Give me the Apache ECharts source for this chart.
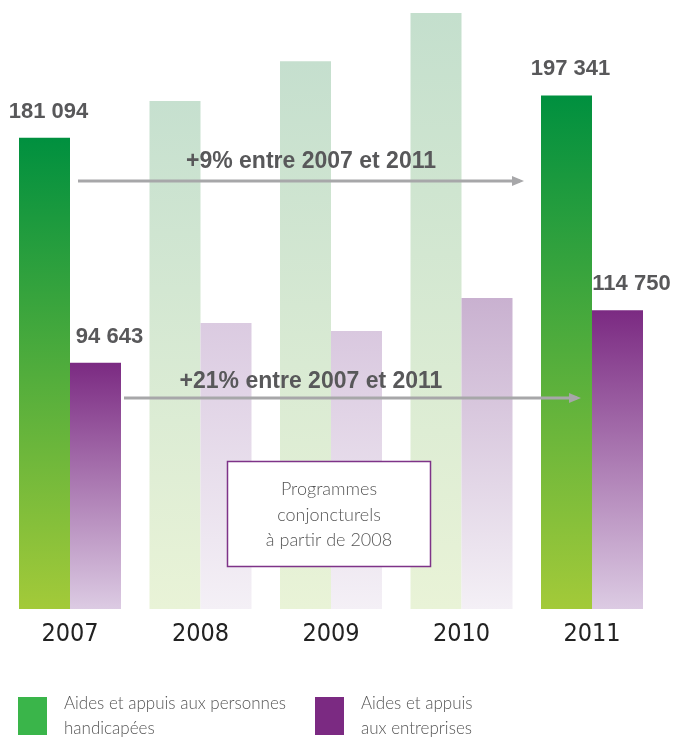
<!DOCTYPE html>
<html>
<head>
<meta charset="utf-8">
<script src="https://cdn.jsdelivr.net/npm/echarts@6/dist/echarts.min.js"></script>
<style>
html,body{margin:0;padding:0;background:#fff;}
#chart{width:678px;height:742px;}
</style>
</head>
<body>
<div id="chart"></div>
<script>
var years = ['2007', '2008', '2009', '2010', '2011'];
var personnesValues = [181094, 195200, 210500, 229000, 197341];
var entreprisesValues = [94643, 109900, 106800, 119500, 114750];
var labelledIndex = [0, 4];
var seriesNames = ['Aides et appuis aux personnes handicapées', 'Aides et appuis aux entreprises'];
var legendLabels = ['Aides et appuis aux personnes\nhandicapées', 'Aides et appuis\naux entreprises'];
var annotations = ['+9% entre 2007 et 2011', '+21% entre 2007 et 2011'];
var boxLines = ['Programmes', 'conjoncturels', 'à partir de 2008'];

function grad(top, bottom) {
  return new echarts.graphic.LinearGradient(0, 0, 0, 1, [
    {offset: 0, color: top}, {offset: 1, color: bottom}
  ]);
}
var fadedGreenTops = ['#c6e0cf', '#c5dfce', '#c4dfcd'];
var fadedPurpleTops = ['#dbcbe1', '#d9c8df', '#c9b1d0'];

function fmt(v) {
  var s = String(v);
  return s.slice(0, s.length - 3) + ' ' + s.slice(-3);
}

var greenData = personnesValues.map(function (v, i) {
  var vivid = labelledIndex.indexOf(i) >= 0;
  return {
    value: v,
    itemStyle: {color: vivid ? grad('#00903f', '#a3ca39') : grad(fadedGreenTops[i - 1], '#e9f3d7')},
    label: {show: vivid}
  };
});
var purpleData = entreprisesValues.map(function (v, i) {
  var vivid = labelledIndex.indexOf(i) >= 0;
  return {
    value: v,
    itemStyle: {color: vivid ? grad('#7b2a82', '#dccbe3') : grad(fadedPurpleTops[i - 1], '#f4f0f6')},
    label: {show: vivid}
  };
});

var labelStyle = {
  position: 'top',
  distance: 15,
  fontFamily: 'Liberation Sans, Arial, sans-serif',
  fontWeight: 'bold',
  fontSize: 22,
  color: '#58585a',
  formatter: function (p) { return fmt(p.value); }
};

var chart = echarts.init(document.getElementById('chart'), null, {renderer: 'canvas'});
var legendText = {
  fontFamily: 'Lato, "Open Sans", sans-serif',
  fontWeight: 300,
  fontSize: 17,
  lineHeight: 25,
  color: '#555555',
  padding: [0, 0, 0, 12]
};
var option = {
  animation: false,
  grid: {left: 4.75, right: 20.75, top: 0, bottom: 133, containLabel: false},
  xAxis: {
    type: 'category',
    data: years,
    axisLine: {show: false},
    axisTick: {show: false},
    axisLabel: {
      margin: 13,
      fontFamily: '"Liberation Sans Narrow", "DejaVu Sans Condensed", sans-serif',
      fontSize: 25,
      fontWeight: 500,
      color: '#222222'
    }
  },
  yAxis: {type: 'value', min: 0, max: 234000, show: false, splitLine: {show: false}},
  legend: [
    {
      left: 18, top: 691, padding: 0, itemWidth: 29, itemHeight: 38,
      icon: 'rect',
      data: [{name: seriesNames[0], itemStyle: {color: '#3ab54a'}}],
      formatter: function () { return legendLabels[0]; },
      textStyle: legendText,
      selectedMode: false
    },
    {
      left: 315, top: 691, padding: 0, itemWidth: 29, itemHeight: 38,
      icon: 'rect',
      data: [{name: seriesNames[1], itemStyle: {color: '#7b2a82'}}],
      formatter: function () { return legendLabels[1]; },
      textStyle: legendText,
      selectedMode: false
    }
  ],
  series: [
    {
      name: seriesNames[0], type: 'bar', barWidth: 51, barGap: '0%',
      itemStyle: {color: '#3ab54a'},
      label: Object.assign({}, labelStyle, {offset: [4, 0]}),
      data: greenData
    },
    {
      name: seriesNames[1], type: 'bar', barWidth: 51, barGap: '0%',
      itemStyle: {color: '#7b2a82'},
      label: Object.assign({}, labelStyle, {offset: [14, 0]}),
      data: purpleData
    }
  ],
  graphic: [
    {type: 'line', shape: {x1: 78, y1: 181, x2: 520, y2: 181}, style: {stroke: '#a7a7a9', lineWidth: 3}, z: 10},
    {type: 'polygon', shape: {points: [[512, 176], [524, 181], [512, 186]]}, style: {fill: '#a7a7a9'}, z: 10},
    {type: 'text', x: 311, y: 162, style: {text: annotations[0], textAlign: 'center', textVerticalAlign: 'middle',
      font: 'bold 23px "Liberation Sans", Arial, sans-serif', fill: '#58585a'}, z: 10},
    {type: 'line', shape: {x1: 124, y1: 398, x2: 577, y2: 398}, style: {stroke: '#a7a7a9', lineWidth: 3}, z: 10},
    {type: 'polygon', shape: {points: [[569, 393], [581, 398], [569, 403]]}, style: {fill: '#a7a7a9'}, z: 10},
    {type: 'text', x: 311, y: 382, style: {text: annotations[1], textAlign: 'center', textVerticalAlign: 'middle',
      font: 'bold 23px "Liberation Sans", Arial, sans-serif', fill: '#58585a'}, z: 10},
    {type: 'rect', shape: {x: 227.5, y: 461.5, width: 203, height: 105}, style: {fill: '#ffffff', stroke: '#7e3388', lineWidth: 1.5}, z: 10},
    {type: 'text', x: 329, y: 515, style: {text: boxLines.join('\n'), textAlign: 'center', textVerticalAlign: 'middle',
      font: '300 18px Lato, "Open Sans", sans-serif', lineHeight: 25.5, fill: '#555555'}, z: 11}
  ]
};
chart.setOption(option);
</script>
</body>
</html>
